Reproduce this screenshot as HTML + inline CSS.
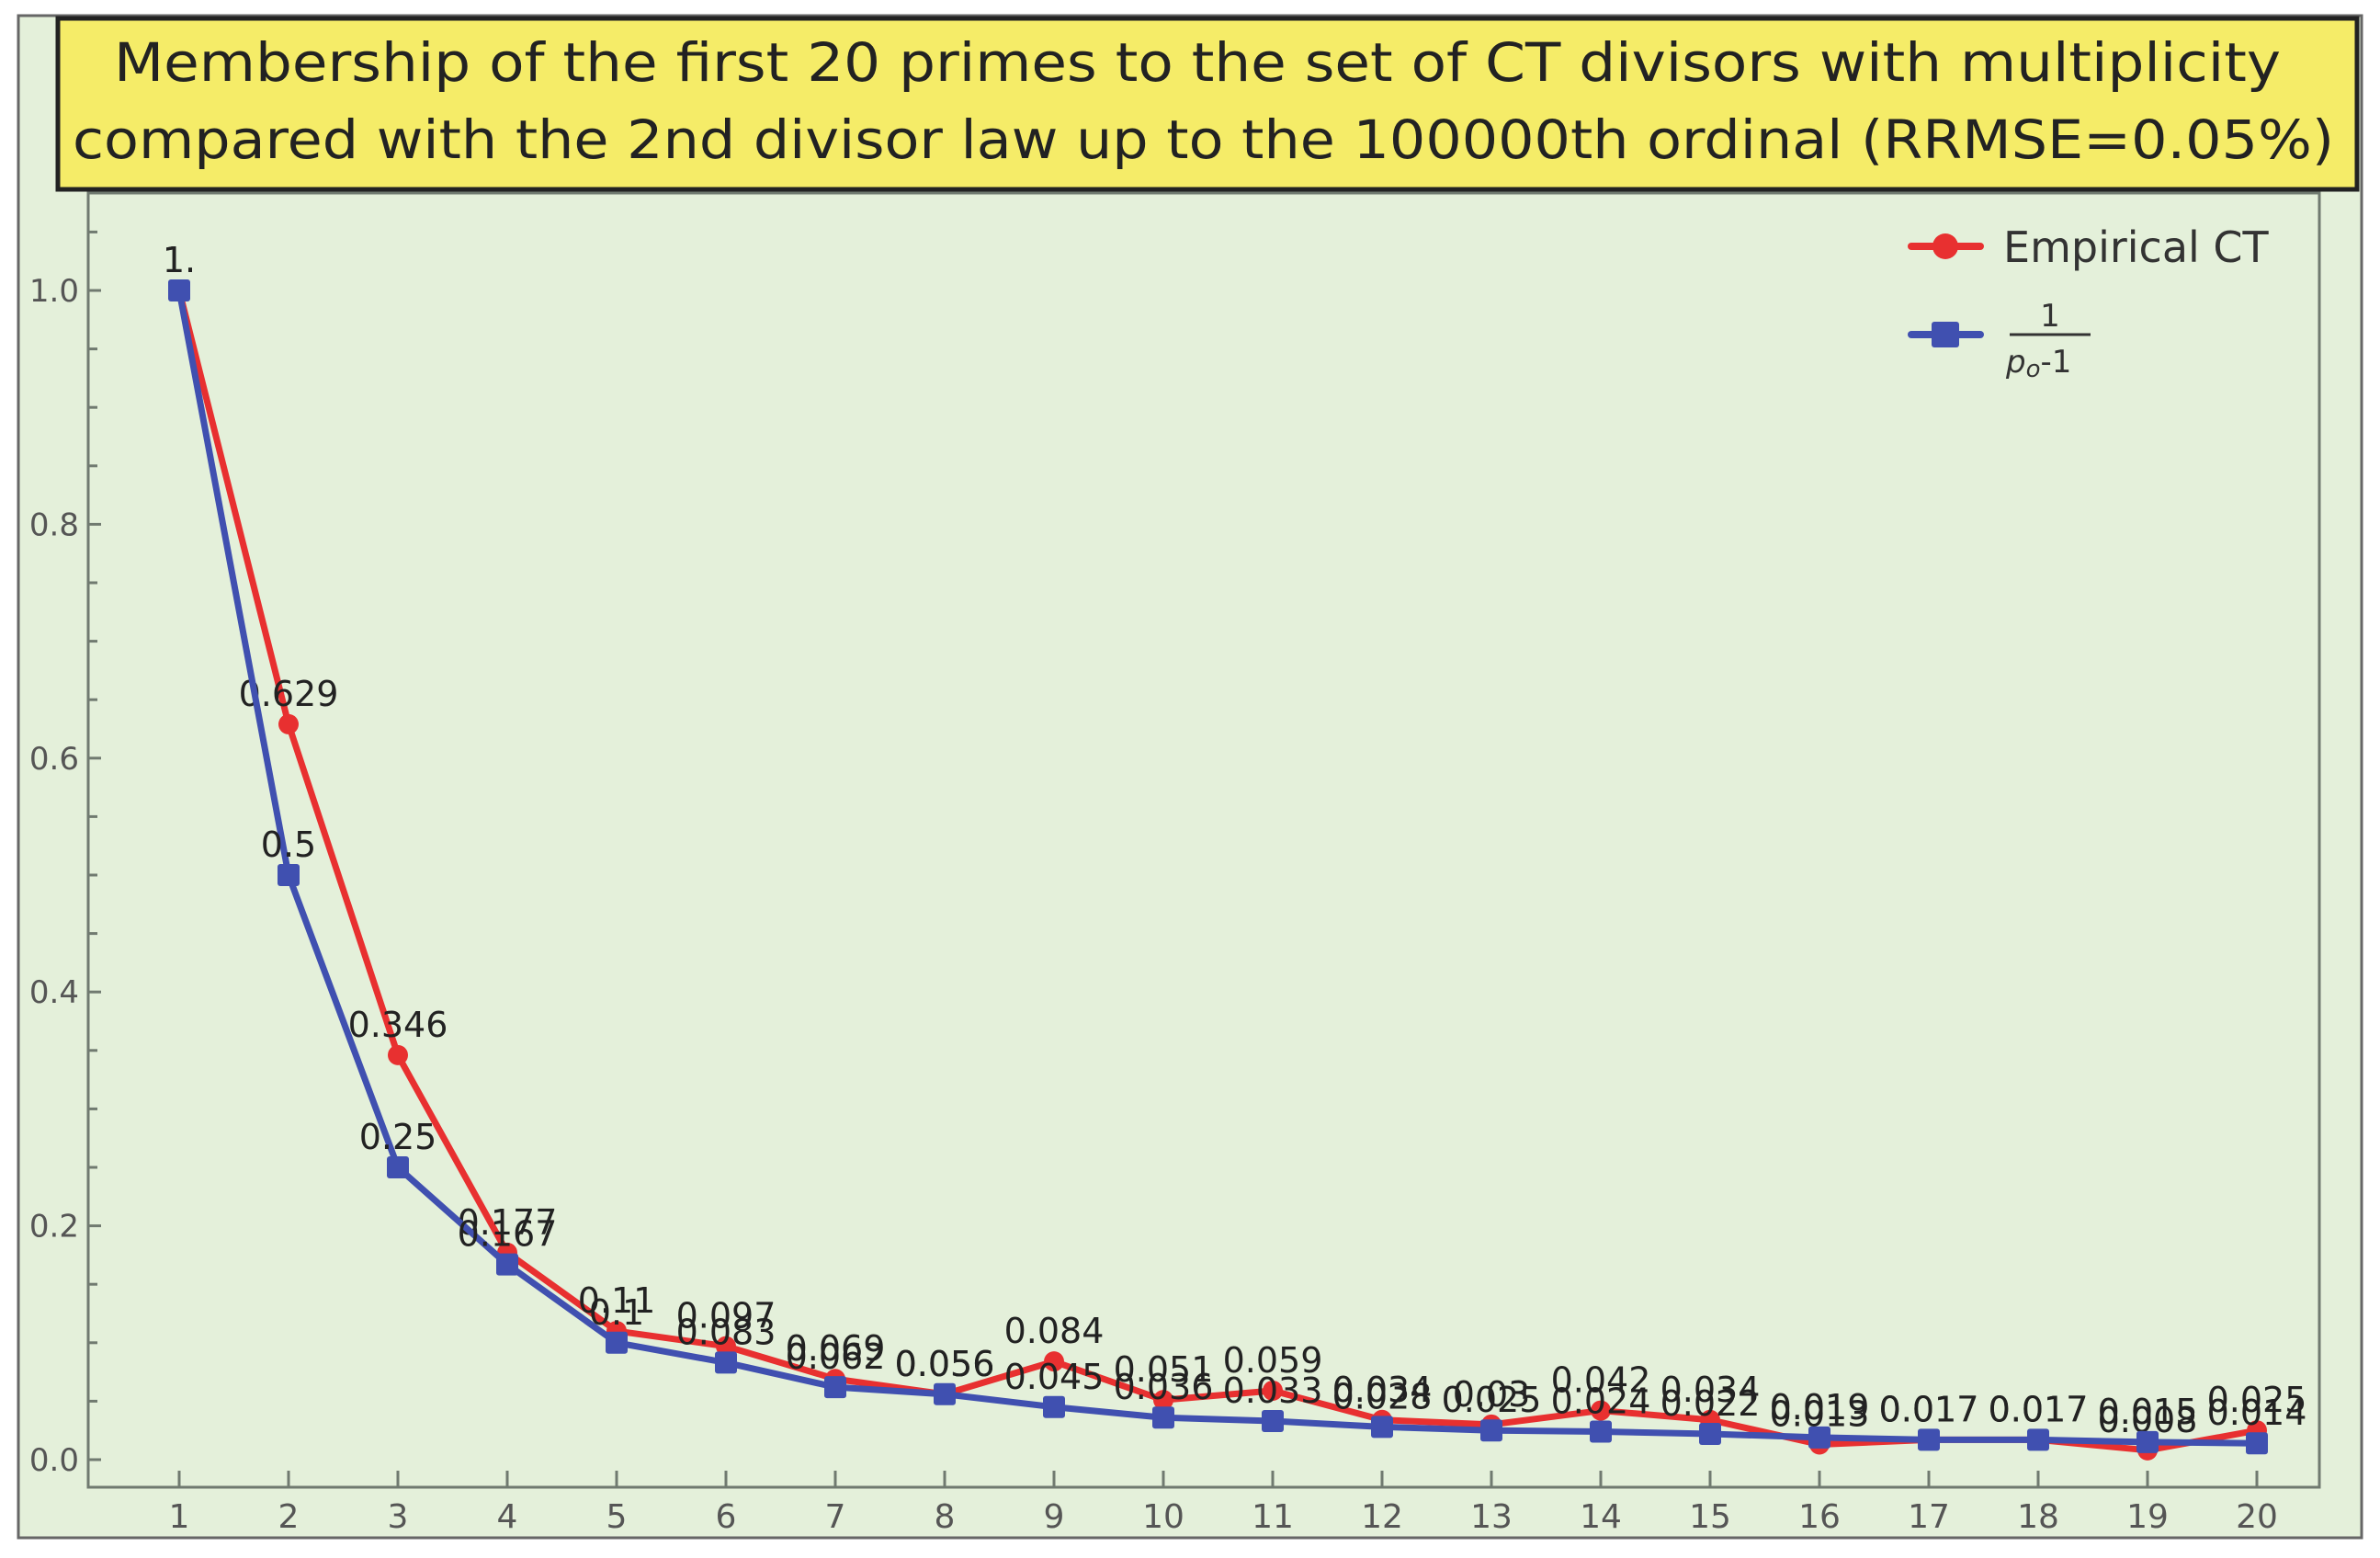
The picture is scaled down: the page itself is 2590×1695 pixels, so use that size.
<!DOCTYPE html>
<html><head><meta charset="utf-8"><style>
body{margin:0;background:#fff;}
svg{display:block;font-family:"DejaVu Sans","Liberation Sans",sans-serif;}
</style></head><body>
<svg id="chart" width="2590" height="1695" viewBox="0 0 2590 1695" xmlns="http://www.w3.org/2000/svg">
<rect x="20" y="17" width="2550" height="1656" fill="#e4f0da" stroke="#666" stroke-width="3"/>
<rect x="96" y="210" width="2428" height="1408" fill="#e4f0da" stroke="#707a70" stroke-width="3"/>
<g>
<rect x="63" y="20" width="2502" height="186" fill="#f5ec68" stroke="#222" stroke-width="5"/>
<text x="124" y="88" font-size="58" textLength="2358" lengthAdjust="spacingAndGlyphs" fill="#222">Membership of the first 20 primes to the set of CT divisors with multiplicity</text>
<text x="79" y="172" font-size="58" textLength="2461" lengthAdjust="spacingAndGlyphs" fill="#222">compared with the 2nd divisor law up to the 100000th ordinal (RRMSE=0.05%)</text>
</g>
<g id="axes"></g>
<g id="series"></g>
<g>
<line x1="2080" y1="268" x2="2155" y2="268" stroke="#e83030" stroke-width="8" stroke-linecap="round"/>
<circle cx="2117" cy="268" r="14" fill="#e83030"/>
<text x="2180" y="285" font-size="46" fill="#333">Empirical CT</text>
<line x1="2080" y1="364" x2="2155" y2="364" stroke="#4050b0" stroke-width="8" stroke-linecap="round"/>
<rect x="2102" y="350" width="30" height="28" rx="3" fill="#4050b0"/>
<text x="2231" y="355" font-size="34" text-anchor="middle" fill="#333">1</text>
<line x1="2187" y1="364" x2="2275" y2="364" stroke="#333" stroke-width="3"/>
<text x="2183" y="405" font-size="34" font-style="italic" fill="#333">p<tspan font-size="26" dy="5">o</tspan><tspan font-style="normal" dy="-5">-1</tspan></text>
</g>
</svg>
<script>
const categories=[1,2,3,4,5,6,7,8,9,10,11,12,13,14,15,16,17,18,19,20];
const empirical=[1,0.629,0.346,0.177,0.11,0.097,0.069,0.056,0.084,0.051,0.059,0.034,0.03,0.042,0.034,0.013,0.017,0.017,0.008,0.025];
const empiricalLabels=["1.","0.629","0.346","0.177","0.11","0.097","0.069","0.056","0.084","0.051","0.059","0.034","0.03","0.042","0.034","0.013","0.017","0.017","0.008","0.025"];
const theory=[1,0.5,0.25,0.167,0.1,0.083,0.062,0.056,0.045,0.036,0.033,0.028,0.025,0.024,0.022,0.019,0.017,0.017,0.015,0.014];
const theoryLabels=["1.","0.5","0.25","0.167","0.1","0.083","0.062","0.056","0.045","0.036","0.033","0.028","0.025","0.024","0.022","0.019","0.017","0.017","0.015","0.014"];
const yTicks=[0,0.2,0.4,0.6,0.8,1.0];
const yTickLabels=["0.0","0.2","0.4","0.6","0.8","1.0"];
const NS="http://www.w3.org/2000/svg";
const xs=c=>195+(c-1)*119.0;
const ys=v=>1588-v*1272;
function mk(tag,attrs,parent){const e=document.createElementNS(NS,tag);for(const k in attrs)e.setAttribute(k,attrs[k]);parent.appendChild(e);return e;}
const ax=document.getElementById('axes');
for(let i=0;i<=21;i++){const v=i*0.05;const y=ys(v);if(y<215)continue;const major=(i%4===0);
 const t=mk('line',{x1:96,y1:y,x2:96+(major?14:10),y2:y,stroke:'#707a70','stroke-width':3},ax);
 
 }
yTicks.forEach((v,i)=>{const t=mk('text',{x:86,y:ys(v)+12,'font-size':34,'text-anchor':'end',fill:'#555'},ax);t.textContent=yTickLabels[i];
 
 });
categories.forEach(c=>{const x=xs(c);
 const l=mk('line',{x1:x,y1:1618,x2:x,y2:1600,stroke:'#707a70','stroke-width':3},ax);
 
 
 const t=mk('text',{x:x,y:1662,'font-size':36,'text-anchor':'middle',fill:'#555'},ax);t.textContent=c;
 
 });
const sg=document.getElementById('series');
function draw(vals,labels,color,shape,name){
 const pts=categories.map((c,i)=>xs(c)+','+ys(vals[i])).join(' ');
 const pl=mk('polyline',{points:pts,fill:'none',stroke:color,'stroke-width':7,'stroke-linejoin':'round'},sg);
 
 
 categories.forEach((c,i)=>{const x=xs(c),y=ys(vals[i]);let m;
  if(shape==='circle')m=mk('circle',{cx:x,cy:y,r:11,fill:color},sg);
  else m=mk('rect',{x:x-12,y:y-12,width:24,height:24,rx:3,fill:color},sg);
  
  
  const t=mk('text',{x:x,y:y-20,'font-size':38,'text-anchor':'middle',fill:'#222'},sg);t.textContent=labels[i];
  
  });
}
draw(empirical,empiricalLabels,'#e83030','circle','empirical');
draw(theory,theoryLabels,'#4050b0','square','theory');
</script>
</body></html>
